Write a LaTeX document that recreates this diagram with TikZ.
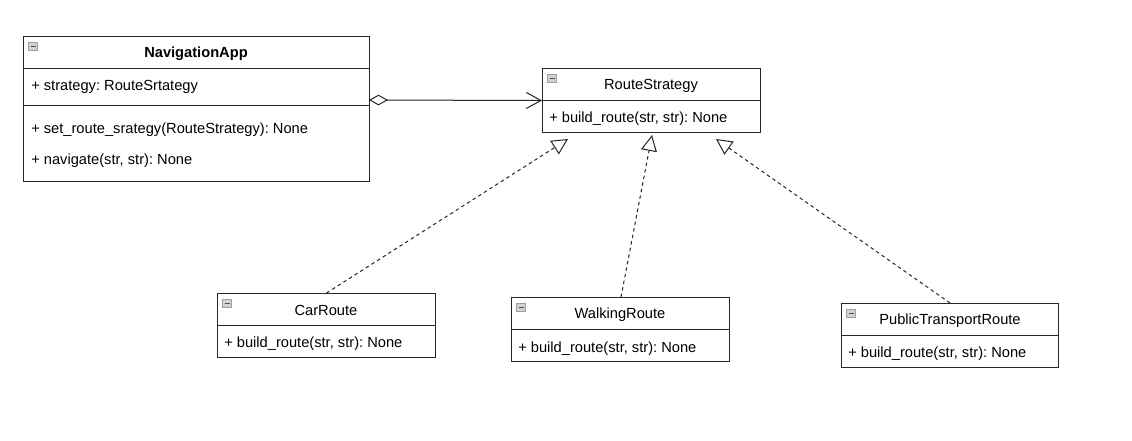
\documentclass[tikz,border=0pt]{standalone}
\usepackage{fontspec}
\setmainfont{Liberation Sans}
\usetikzlibrary{arrows.meta}
\frenchspacing
\newcommand\umlicon[2]{%
  \draw[fill=gray!35, draw=gray!75, line width=0.5pt] (#1+5.5,#2+6.5) rectangle (#1+14.5,#2+14.5);
  \draw[black!70, line width=0.75pt] (#1+7.5,#2+10.5) -- (#1+12.5,#2+10.5);
}
\begin{document}
\begin{tikzpicture}[x=0.75pt,y=-0.75pt,
  ln/.style={draw=black!85, line width=0.75pt},
  cls/.style={ln, fill=white, inner sep=0pt, anchor=north west},
  txt/.style={inner sep=0pt, yshift=-1.2pt, font=\fontsize{11}{13}\selectfont\frenchspacing, text=black},
  member/.style={txt, anchor=west},
  ttl/.style={txt},
  realize/.style={ln, dash pattern=on 2.6pt off 2.4pt, -{Triangle[open, length=12pt, width=12pt]}},
  aggr/.style={ln, {Diamond[open, length=14.25pt, width=8pt]}-{Straight Barb[length=11pt, width=12pt, line width=0.75pt]}}
]
\useasboundingbox (0,0) rectangle (1132,440);
\fill[white] (0,0) rectangle (1132,440);

% NavigationApp
\node[cls, minimum width=259.5pt, minimum height=108.75pt] (nav) at (23,36) {};
\draw[ln] (23,68) -- (369,68);
\draw[ln] (23,105) -- (369,105);
\umlicon{23}{36}
\node[ttl, font=\fontsize{11}{13}\selectfont\bfseries] (navT) at (196,52) {NavigationApp};
\node[member] (navA) at (31,85) {+ strategy: RouteSrtategy};
\node[member] (navM1) at (31,128) {+ set\_route\_srategy(RouteStrategy): None};
\node[member] (navM2) at (31,159) {+ navigate(str, str): None};

% RouteStrategy
\node[cls, minimum width=163.5pt, minimum height=48pt] (rs) at (542,68) {};
\draw[ln] (542,100) -- (760,100);
\umlicon{542}{68}
\node[ttl] (rsT) at (651,84) {RouteStrategy};
\node[member] (rsM) at (549,117) {+ build\_route(str, str): None};

% CarRoute
\node[cls, minimum width=163.5pt, minimum height=48pt] (car) at (217,293) {};
\draw[ln] (217,325) -- (435,325);
\umlicon{217}{293}
\node[ttl] (carT) at (326,309) {CarRoute};
\node[member] (carM) at (224,342) {+ build\_route(str, str): None};

% WalkingRoute
\node[cls, minimum width=163.5pt, minimum height=48pt] (walk) at (511,297) {};
\draw[ln] (511,329) -- (729,329);
\umlicon{511}{297}
\node[ttl] (walkT) at (620,313) {WalkingRoute};
\node[member] (walkM) at (518,347) {+ build\_route(str, str): None};

% PublicTransportRoute
\node[cls, minimum width=162.75pt, minimum height=48pt] (pub) at (841,303) {};
\draw[ln] (841,335) -- (1058,335);
\umlicon{841}{303}
\node[ttl] (pubT) at (950,319) {PublicTransportRoute};
\node[member] (pubM) at (848,352) {+ build\_route(str, str): None};

% connectors
\coordinate (aggS) at (369,100);
\coordinate (t1) at (568,139);
\coordinate (t2) at (652,135);
\coordinate (t3) at (716,139);
\coordinate (walkS) at (621,297);

\draw[aggr] (aggS) -- (rs.west);
\draw[realize] (car.north) -- (t1);
\draw[realize] (walkS) -- (t2);
\draw[realize] (pub.north) -- (t3);
\end{tikzpicture}
\end{document}
